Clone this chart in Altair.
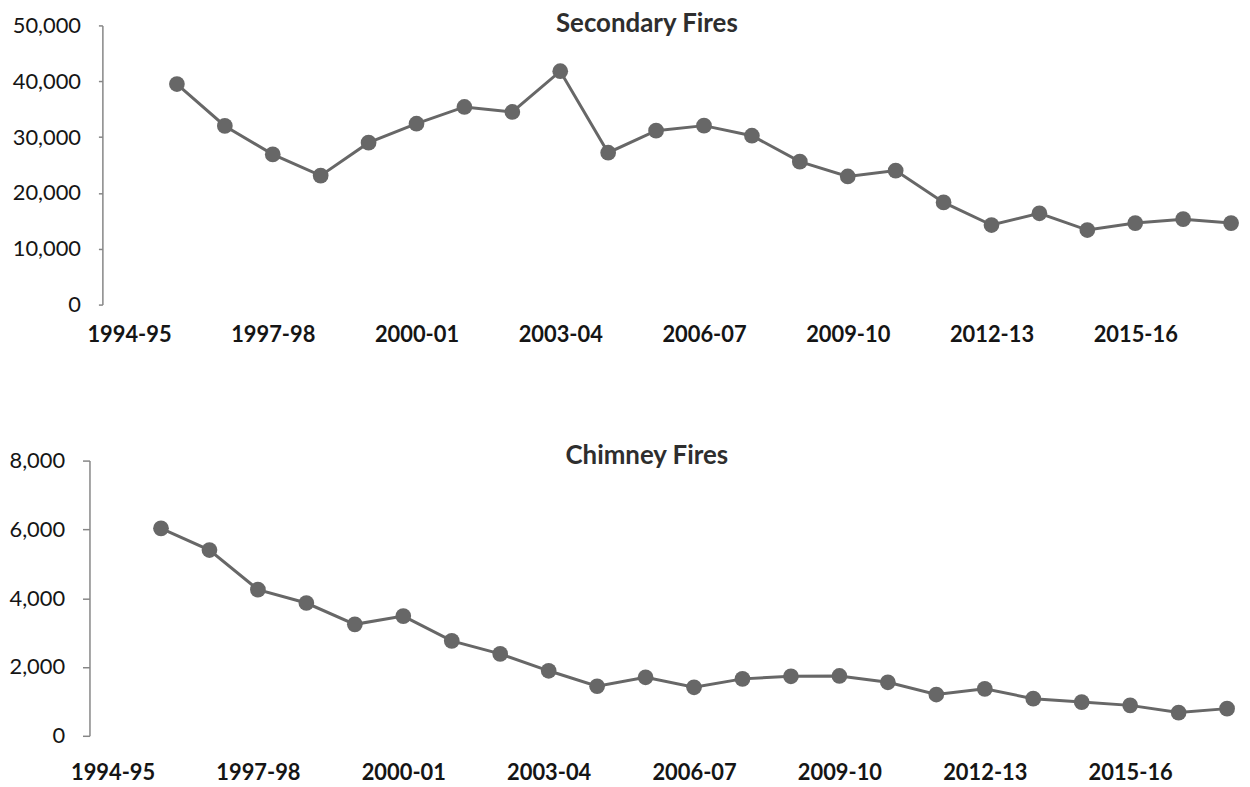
import altair as alt
import pandas as pd

# Seasons on the category axis (first season has no data point)
seasons = ["1994-95", "1995-96", "1996-97", "1997-98", "1998-99", "1999-00",
           "2000-01", "2001-02", "2002-03", "2003-04", "2004-05", "2005-06",
           "2006-07", "2007-08", "2008-09", "2009-10", "2010-11", "2011-12",
           "2012-13", "2013-14", "2014-15", "2015-16", "2016-17", "2017-18"]

# Values for 1995-96 .. 2017-18
secondary_fires = [39500, 32000, 26900, 23100, 29000, 32400, 35400, 34500,
                   41800, 27200, 31150, 32050, 30250, 25600, 22950, 24000,
                   18300, 14250, 16350, 13350, 14600, 15300, 14600]
chimney_fires = [6030, 5400, 4250, 3860, 3240, 3480, 2760, 2380, 1890, 1440,
                 1700, 1410, 1655, 1730, 1740, 1555, 1200, 1365, 1080, 980,
                 885, 675, 790]

label_seasons = list(range(0, len(seasons), 3))
label_expr = "[" + ",".join("'%s'" % s for s in seasons) + "][datum.value]"

LINE_COLOR = "#676767"
FONT = "Lato"


def panel(values, title, ymax, ystep, xdom, height, tick_size, axis_offset,
          title_x, title_y, xlabel_pad):
    df = pd.DataFrame({
        "idx": list(range(1, len(values) + 1)),
        "season": seasons[1:len(values) + 1],
        "value": values,
    })
    x = alt.X(
        "idx:Q",
        scale=alt.Scale(domain=xdom, nice=False, zero=False),
        axis=alt.Axis(values=label_seasons, labelExpr=label_expr, domain=False,
                      ticks=False, tickSize=0, grid=False, title=None,
                      labelFont=FONT, labelFontSize=22, labelFontWeight="bold",
                      labelColor="#151515", labelPadding=xlabel_pad,
                      labelFlush=False, labelOverlap=False),
    )
    y = alt.Y(
        "value:Q",
        scale=alt.Scale(domain=[0, ymax], nice=False),
        axis=alt.Axis(values=list(range(0, ymax + 1, ystep)), format=",d",
                      grid=False, title=None, domainColor="#868686",
                      domainWidth=1.5, tickColor="#868686", tickWidth=1.5,
                      tickSize=tick_size, labelPadding=18, labelFont=FONT,
                      labelFontSize=22, labelColor="#151515",
                      offset=axis_offset, labelFlush=False,
                      labelOverlap=False),
    )
    base = alt.Chart(df).encode(x=x, y=y)
    line = base.mark_line(color=LINE_COLOR, strokeWidth=3)
    pts = base.mark_circle(color=LINE_COLOR, size=250, opacity=1)
    ttl = alt.Chart(pd.DataFrame({"t": [title]})).mark_text(
        font=FONT, fontSize=26, fontWeight="bold", color="#2e2e2e",
        baseline="middle", align="center",
    ).encode(text="t:N", x=alt.value(title_x), y=alt.value(title_y))
    return alt.layer(line, pts, ttl).properties(width=1160, height=height)


top = panel(secondary_fires, "Secondary Fires", 50000, 10000,
            [-0.825, 23.228], 281, 4, -13, 561, -1, 20.5)
bottom = panel(chimney_fires, "Chimney Fires", 8000, 2000,
               [-0.476, 23.308], 277, 7, 0, 561, -5, 27)

chart = alt.vconcat(top, bottom, spacing=97).properties(
    padding={"left": 0, "top": 1, "right": 0, "bottom": 0},
    background="white",
).configure_view(stroke=None)

chart.save("out.html", embed_options={"renderer": "svg", "actions": False})
